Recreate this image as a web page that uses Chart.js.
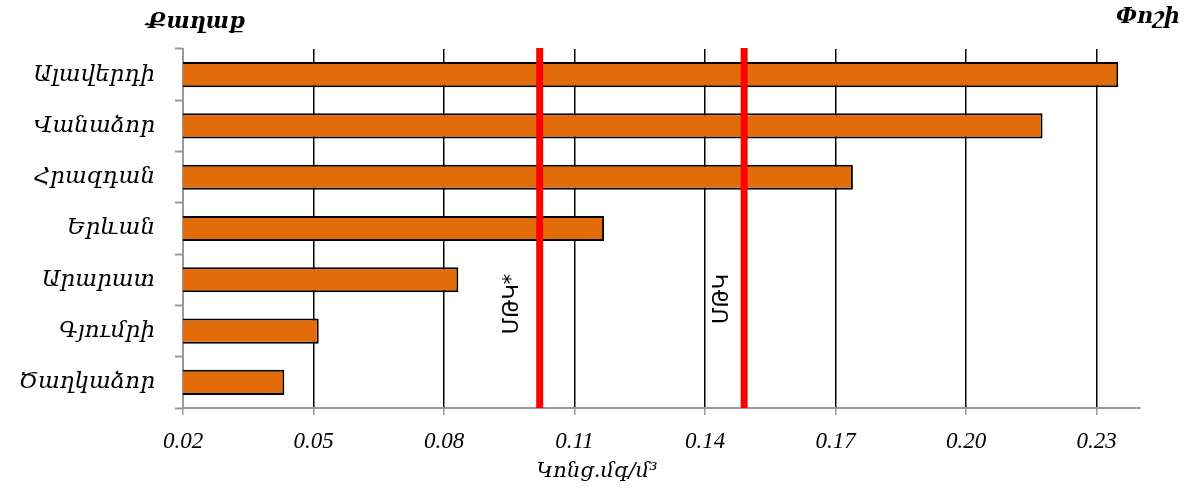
<!DOCTYPE html>
<html>
<head>
<meta charset="utf-8">
<script src="https://cdn.jsdelivr.net/npm/chart.js@4/dist/chart.umd.min.js"></script>
<style>
  html, body { margin: 0; padding: 0; background: #fff; }
  #wrap { width: 1191px; height: 493px; position: relative; }
</style>
</head>
<body>
<div id="wrap"><canvas id="c"></canvas></div>
<script>
// Cities and measured dust concentration (mg/m³)
const cities = ['Ալավերդի', 'Վանաձոր', 'Հրազդան', 'Երևան', 'Արարատ', 'Գյումրի', 'Ծաղկաձոր'];
const dust = [0.235, 0.2176, 0.174, 0.1168, 0.0833, 0.0512, 0.0433];

// Permissible concentration limits drawn as red vertical lines
const limitLabels = ['ՄԹԿ*', 'ՄԹԿ'];
const limitValues = [0.102, 0.149];

// Axis tick values
const xTicks = [0.02, 0.05, 0.08, 0.11, 0.14, 0.17, 0.20, 0.23];

const serif = "'Liberation Serif', 'DejaVu Serif', serif";
const armSerif = "'DejaVu Serif', serif";

const overlay = {
  id: 'overlay',
  afterDatasetsDraw(chart) {
    const { ctx, chartArea, scales } = chart;
    const x = scales.x;
    ctx.save();
    limitValues.forEach((v, i) => {
      const px = x.getPixelForValue(v);
      ctx.strokeStyle = '#ff0000';
      ctx.lineWidth = 7;
      ctx.beginPath();
      ctx.moveTo(px, chartArea.top - 1);
      ctx.lineTo(px, chartArea.bottom);
      ctx.stroke();

      ctx.save();
      const off = i === 0 ? 27 : 22;
      ctx.translate(px - off, i === 0 ? 304 : 299);
      ctx.rotate(-Math.PI / 2);
      ctx.fillStyle = '#000';
      ctx.font = "21px 'DejaVu Sans', sans-serif";
      ctx.textAlign = 'center';
      ctx.textBaseline = 'middle';
      ctx.fillText(limitLabels[i], 0, 0);
      ctx.restore();
    });

    ctx.fillStyle = '#000';
    ctx.textBaseline = 'middle';
    ctx.textAlign = 'center';
    ctx.font = "italic bold 22px " + armSerif;
    ctx.fillText('Քաղաք', 196, 22);
    ctx.fillText('Փոշի', 1148, 17);

    ctx.font = "italic 21px " + armSerif;
    ctx.fillText('Կոնց.մգ/մ³', 597, 472);
    ctx.restore();
  }
};

new Chart(document.getElementById('c'), {
  type: 'bar',
  data: {
    labels: cities,
    datasets: [{
      data: dust,
      backgroundColor: '#e36c0a',
      borderColor: '#000',
      borderWidth: 2,
      borderSkipped: 'start',
      categoryPercentage: 1,
      barPercentage: 0.49
    }]
  },
  options: {
    indexAxis: 'y',
    responsive: true,
    maintainAspectRatio: false,
    animation: false,
    layout: { padding: { top: 49, right: 51, left: 0, bottom: 0 } },
    plugins: { legend: { display: false }, tooltip: { enabled: false } },
    scales: {
      x: {
        min: 0.02,
        max: 0.24,
        afterBuildTicks(scale) { scale.ticks = xTicks.map(v => ({ value: v })); },
        afterFit(scale) { scale.height = 85; },
        ticks: {
          callback: v => Number(v).toFixed(2),
          color: '#000',
          font: { family: serif, style: 'italic', size: 23 },
          padding: 13,
          maxRotation: 0
        },
        grid: {
          color: c => (c.tick && Math.abs(c.tick.value - 0.02) < 1e-9) ? 'rgba(0,0,0,0)' : '#000',
          lineWidth: 1.5,
          tickColor: '#999',
          tickLength: 7
        },
        border: { color: '#999', width: 2 }
      },
      y: {
        afterFit(scale) { scale.width = 183; },
        ticks: {
          color: '#000',
          font: { family: armSerif, style: 'italic', size: 23 },
          padding: 20
        },
        grid: {
          offset: true,
          drawOnChartArea: false,
          drawTicks: true,
          tickLength: 8,
          tickColor: '#999',
          tickWidth: 2
        },
        border: { color: '#999', width: 2 }
      }
    }
  },
  plugins: [overlay]
});
</script>
</body>
</html>
